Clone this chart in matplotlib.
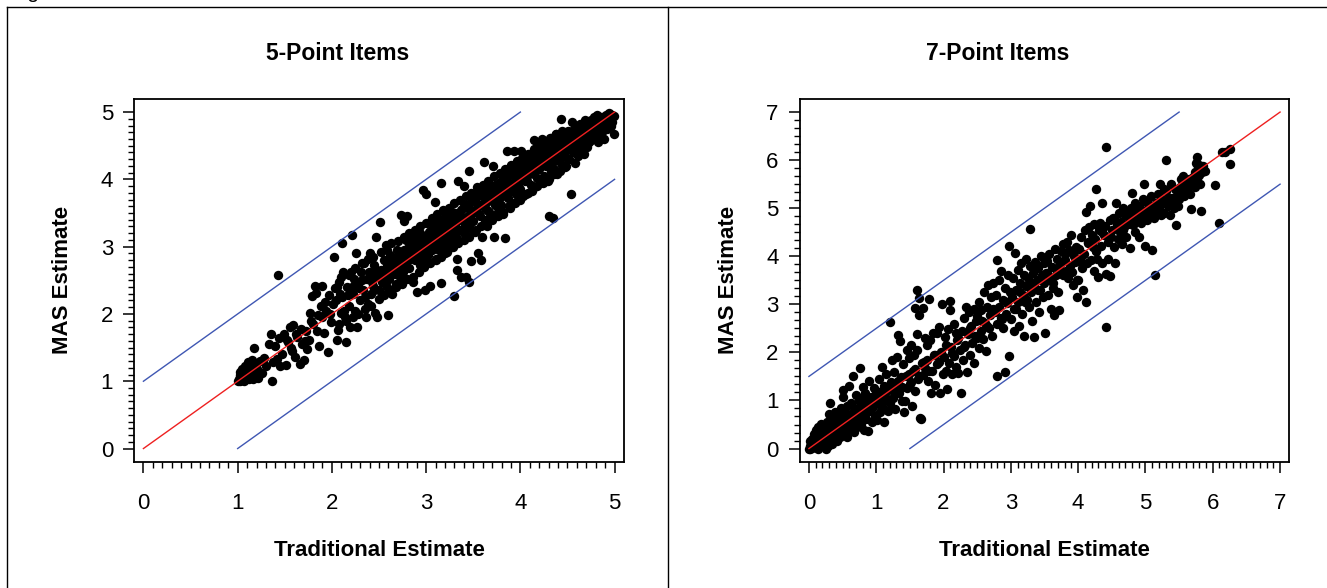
import matplotlib
matplotlib.use('Agg')
import matplotlib.pyplot as plt
from matplotlib.lines import Line2D
import numpy as np

plt.rcParams['font.family'] = ['Liberation Sans', 'DejaVu Sans']

# 5-point items: traditional estimate (x) and MAS estimate (y)
trad_5 = [
    1.00, 1.01, 1.02, 1.02, 1.03, 1.04, 1.05, 1.05, 1.06, 1.07, 1.08, 1.09,
    1.10, 1.11, 1.12, 1.13, 1.14, 1.15, 1.16, 1.18, 1.19, 1.21, 1.22, 1.24,
    1.17, 1.26, 1.28, 1.30, 1.33, 1.35, 1.36, 1.38, 1.40, 1.42, 1.44, 1.47, 1.49, 1.45,
    1.51, 1.53, 1.56, 1.58, 1.59, 1.61, 1.63, 1.66, 1.68, 1.70, 1.72, 1.74,
    1.76, 1.77, 1.79, 1.80, 1.82, 1.83, 1.85, 1.86, 1.88, 1.90, 1.92, 1.94, 1.96, 1.97, 1.99,
    2.01, 2.03, 2.05, 2.06, 2.08, 2.10, 2.11, 2.12, 2.14, 2.15, 2.16, 2.18, 2.19, 2.20, 2.22, 2.23, 2.24,
    2.26, 2.27, 2.28, 2.30, 2.31, 2.33, 2.34, 2.36, 2.37, 2.38, 2.40, 2.41, 2.42, 2.44, 2.45, 2.46, 2.47, 2.48, 2.49,
    2.50, 2.51, 2.52, 2.53, 2.55, 2.56, 2.57, 2.58, 2.60, 2.60, 2.61, 2.62, 2.64, 2.65, 2.66, 2.68, 2.69, 2.70, 2.72, 2.73, 2.74,
    2.75, 2.76, 2.77, 2.78, 2.79, 2.80, 2.81, 2.82, 2.83, 2.85, 2.86, 2.87, 2.88, 2.89, 2.90, 2.91, 2.93, 2.94, 2.95, 2.96, 2.97, 2.98, 2.99,
    3.00, 3.01, 3.02, 3.03, 3.04, 3.05, 3.06, 3.07, 3.08, 3.09, 3.10, 3.11, 3.12, 3.13, 3.14, 3.15, 3.16, 3.16, 3.17, 3.18, 3.19, 3.20, 3.21, 3.22, 3.23, 3.24,
    3.25, 3.26, 3.27, 3.28, 3.29, 3.30, 3.30, 3.31, 3.32, 3.33, 3.33, 3.34, 3.35, 3.36, 3.37, 3.38, 3.39, 3.40, 3.40, 3.41, 3.42, 3.43, 3.44, 3.45, 3.46, 3.47, 3.48, 3.49,
    3.50, 3.51, 3.52, 3.53, 3.54, 3.55, 3.56, 3.57, 3.58, 3.59, 3.60, 3.61, 3.62, 3.63, 3.64, 3.65, 3.66, 3.67, 3.68, 3.69, 3.70, 3.71, 3.72, 3.73, 3.74,
    3.75, 3.76, 3.77, 3.78, 3.79, 3.80, 3.81, 3.82, 3.83, 3.84, 3.85, 3.86, 3.87, 3.88, 3.89, 3.90, 3.91, 3.92, 3.93, 3.94, 3.95, 3.96, 3.97, 3.98, 3.99,
    4.00, 4.01, 4.02, 4.03, 4.04, 4.05, 4.06, 4.07, 4.08, 4.09, 4.10, 4.11, 4.12, 4.13, 4.14, 4.15, 4.16, 4.17, 4.18, 4.19, 4.20, 4.21, 4.22, 4.23, 4.24,
    4.25, 4.26, 4.27, 4.28, 4.29, 4.30, 4.30, 4.31, 4.32, 4.33, 4.34, 4.35, 4.35, 4.36, 4.37, 4.38, 4.39, 4.40, 4.41, 4.42, 4.43, 4.44, 4.45, 4.46, 4.47, 4.48, 4.49,
    4.50, 4.51, 4.52, 4.53, 4.54, 4.55, 4.56, 4.57, 4.58, 4.59, 4.60, 4.61, 4.62, 4.63, 4.64, 4.65, 4.66, 4.67, 4.68, 4.69, 4.70, 4.71, 4.72, 4.73, 4.74,
    4.75, 4.76, 4.77, 4.78, 4.79, 4.80, 4.81, 4.82, 4.83, 4.84, 4.85, 4.86, 4.87, 4.88, 4.89, 4.90, 4.91, 4.92, 4.93, 4.94, 4.95, 4.96, 4.97, 4.99, 4.99,
    1.43, 2.02, 2.11, 2.21,
    1.52, 1.57, 1.62, 1.67, 1.71, 1.78, 1.84, 1.89, 1.93, 1.98, 2.04, 2.09, 2.13, 2.17, 2.21, 2.29, 2.32, 2.35, 2.39, 2.43, 2.45, 2.47,
    2.52, 2.54, 2.56, 2.58, 2.61, 2.63, 2.65, 2.67, 2.69, 2.71, 2.73, 2.75, 2.77, 2.79, 2.81, 2.83, 2.85, 2.87, 2.89, 2.91, 2.93, 2.95, 2.97, 2.99,
    3.01, 3.03, 3.05, 3.07, 3.09, 3.11, 3.13, 3.15, 3.17, 3.19, 3.21, 3.23, 3.25, 3.27, 3.29, 3.31, 3.33, 3.35, 3.37, 3.39, 3.41, 3.43, 3.45, 3.47, 3.49,
    3.51, 3.53, 3.55, 3.57, 3.59, 3.61, 3.63, 3.65, 3.67, 3.69, 3.71, 3.73, 3.75, 3.77, 3.79, 3.81, 3.83, 3.85, 3.87, 3.89, 3.91, 3.93, 3.95, 3.97, 3.99,
    4.01, 4.03, 4.05, 4.07, 4.09, 4.11, 4.13, 4.15, 4.17, 4.19, 4.21, 4.23, 4.25, 4.27, 4.29, 4.31, 4.33, 4.35, 4.37, 4.39, 4.41, 4.43, 4.45, 4.47, 4.49,
    4.51, 4.53, 4.55, 4.57, 4.59, 4.61, 4.63, 4.65, 4.67, 4.69, 4.71, 4.73, 4.75, 4.77, 4.79, 4.81, 4.83, 4.85, 4.87, 4.89, 4.91, 4.93, 4.95, 4.97,
    2.05, 2.10, 2.18, 2.25, 2.32, 2.38, 2.44, 2.52, 2.58, 2.63, 2.70, 2.76, 2.82, 2.88, 2.94, 3.00, 3.06, 3.12, 3.18, 3.24,
    3.30, 3.36, 3.42, 3.48, 3.54, 3.60, 3.66, 3.72, 3.78, 3.84, 3.90, 3.96, 4.02, 4.08, 4.14, 4.20, 4.26, 4.32, 4.38, 4.44,
    2.08, 2.15, 2.22, 2.28, 2.35, 2.42, 2.50, 2.55, 2.62, 2.68, 2.74, 2.80, 2.86, 2.92, 2.98, 3.04, 3.10, 3.16, 3.22, 3.28,
    3.34, 3.40, 3.46, 3.52, 3.58, 3.64, 3.70, 3.76, 3.82, 3.88, 3.94, 4.00, 4.06, 4.12, 4.18, 4.24, 4.30, 4.36, 4.42, 4.48,
]
mas_5 = [
    1.00, 1.04, 1.00, 1.09, 1.14, 1.02, 1.07, 1.18, 1.12, 1.00, 1.22, 1.05,
    1.15, 1.28, 1.03, 1.20, 1.10, 1.32, 1.04, 1.25, 1.13, 1.18, 1.05, 1.30,
    1.49, 1.12, 1.35, 1.22, 1.55, 1.70, 1.01, 1.28, 1.52, 1.33, 1.65, 1.40, 1.70, 1.22,
    1.24, 1.58, 1.81, 1.45, 1.84, 1.36, 1.66, 1.25, 1.55, 1.32, 1.75, 1.48,
    1.62, 2.01, 2.26, 1.85, 2.41, 2.31, 1.98, 1.52, 2.12, 2.41, 1.72, 2.05, 1.44, 2.28, 1.88,
    2.15, 2.38, 1.62, 1.76, 2.48, 2.02, 2.25, 2.63, 1.95, 1.59, 2.40, 2.12, 1.81, 2.63, 2.30, 2.52, 2.05,
    2.90, 1.81, 2.45, 2.20, 2.62, 2.35, 2.75, 1.96, 2.52, 2.15, 2.90, 2.30, 2.60, 2.42, 2.72, 2.01, 3.15, 1.95, 2.55,
    2.35, 3.36, 2.65, 2.48, 2.80, 2.58, 3.02, 2.40, 1.98, 2.70, 2.52, 2.88, 2.30, 2.62, 2.78, 2.45, 2.95, 2.70, 2.55, 3.47, 2.85,
    2.62, 3.38, 2.95, 2.75, 3.10, 3.45, 2.85, 2.68, 3.02, 2.92, 2.47, 3.15, 2.80, 2.98, 2.33, 3.08, 2.72, 3.20, 2.90, 3.02, 3.84, 2.82, 2.36,
    3.78, 3.05, 2.88, 3.22, 2.41, 3.12, 2.95, 3.35, 3.02, 3.66, 3.15, 2.82, 3.28, 3.08, 2.95, 3.40, 2.46, 3.94, 3.18, 3.02, 3.30, 2.90, 3.45, 3.12, 3.22, 2.98,
    3.35, 3.10, 3.52, 3.22, 3.05, 2.27, 3.42, 3.30, 3.15, 2.81, 2.66, 3.98, 3.48, 3.25, 2.55, 3.40, 3.58, 3.90, 3.20, 3.32, 2.55, 3.62, 3.45, 2.48, 4.13, 3.28, 2.78, 3.52,
    3.38, 3.70, 3.55, 3.25, 3.82, 2.91, 3.48, 3.62, 2.80, 3.15, 3.75, 4.26, 3.40, 3.58, 3.88, 3.30, 3.68, 3.52, 3.92, 3.45, 3.78, 4.20, 3.15, 3.62, 3.85,
    3.70, 3.52, 3.95, 3.80, 3.62, 4.05, 3.75, 3.48, 3.88, 3.13, 4.00, 4.42, 3.72, 3.92, 3.58, 4.10, 3.82, 3.65, 4.42, 3.98, 3.78, 4.15, 3.88, 3.70, 4.05,
    3.85, 4.42, 4.12, 3.75, 4.25, 3.98, 4.32, 4.05, 3.80, 4.18, 4.38, 3.92, 4.10, 4.28, 4.59, 3.88, 4.20, 4.35, 4.02, 4.45, 4.15, 3.95, 4.30, 4.60, 4.22,
    4.05, 4.38, 4.20, 4.52, 3.98, 3.45, 4.30, 4.62, 4.12, 4.42, 4.25, 3.42, 4.55, 4.15, 4.35, 4.68, 4.08, 4.45, 4.28, 4.58, 4.90, 4.22, 4.40, 4.65, 4.18, 4.50, 4.32,
    4.45, 4.72, 4.30, 4.58, 3.78, 4.85, 4.40, 4.62, 4.25, 4.78, 4.50, 4.35, 4.68, 4.82, 4.55, 4.42, 4.75, 4.60, 4.38, 4.88, 4.65, 4.48, 4.80, 4.55, 4.70,
    4.58, 4.85, 4.70, 4.92, 4.62, 4.78, 4.95, 4.55, 4.88, 4.72, 4.82, 4.65, 4.92, 4.78, 4.60, 4.88, 4.95, 4.75, 4.85, 4.98, 4.90, 4.80, 4.96, 4.94, 4.68,
    2.58, 2.85, 3.06, 3.18,
    1.62, 1.50, 1.70, 1.78, 1.60, 1.90, 1.75, 1.95, 2.18, 2.00, 2.20, 2.30, 2.05, 2.28, 2.40, 2.38, 2.50, 2.25, 2.62, 2.48, 2.35, 2.65,
    2.62, 2.47, 2.58, 2.72, 2.55, 2.68, 2.80, 2.60, 2.74, 2.88, 2.66, 2.80, 2.90, 2.70, 2.98, 2.82, 3.05, 2.90, 3.02, 2.85, 3.10, 2.98, 3.08, 2.92,
    3.15, 3.00, 3.25, 3.10, 2.98, 3.20, 3.32, 3.12, 3.28, 3.08, 3.35, 3.22, 3.45, 3.30, 3.18, 3.50, 3.38, 3.25, 3.55, 3.42, 3.62, 3.35, 3.58, 3.48, 3.68,
    3.52, 3.72, 3.60, 3.45, 3.78, 3.65, 3.82, 3.55, 3.75, 3.88, 3.68, 3.92, 3.80, 3.65, 3.95, 3.85, 4.00, 3.78, 3.95, 4.08, 3.88, 4.05, 4.15, 3.92, 4.12,
    4.02, 4.22, 4.10, 3.98, 4.25, 4.15, 4.32, 4.08, 4.25, 4.38, 4.20, 4.35, 4.45, 4.28, 4.42, 4.22, 4.50, 4.38, 4.55, 4.30, 4.48, 4.60, 4.35, 4.55, 4.68,
    4.45, 4.62, 4.72, 4.50, 4.68, 4.55, 4.75, 4.62, 4.82, 4.58, 4.78, 4.68, 4.88, 4.72, 4.85, 4.65, 4.80, 4.92, 4.70, 4.84, 4.90, 4.78, 4.92, 4.85,
    2.40, 2.55, 2.58, 2.68, 2.75, 2.82, 2.85, 2.92, 2.95, 3.05, 3.08, 3.15, 3.20, 3.25, 3.30, 3.35, 3.42, 3.48, 3.55, 3.58,
    3.65, 3.70, 3.75, 3.80, 3.88, 3.92, 3.98, 4.05, 4.10, 4.15, 4.22, 4.28, 4.32, 4.38, 4.45, 4.50, 4.55, 4.62, 4.68, 4.72,
    1.85, 1.90, 1.95, 2.00, 2.08, 2.12, 2.22, 2.28, 2.32, 2.40, 2.45, 2.52, 2.55, 2.62, 2.70, 2.75, 2.80, 2.85, 2.92, 3.00,
    3.05, 3.10, 3.15, 3.22, 3.30, 3.35, 3.40, 3.45, 3.52, 3.60, 3.65, 3.70, 3.78, 3.82, 3.90, 3.95, 4.00, 4.08, 4.12, 4.20,
]

# 7-point items
trad_7 = [
    0.00, 0.01, 0.02, 0.02, 0.03, 0.04, 0.05, 0.06, 0.07, 0.08, 0.09, 0.10, 0.11, 0.12, 0.13, 0.14, 0.15, 0.17, 0.18, 0.20, 0.21, 0.22, 0.24,
    0.25, 0.26, 0.27, 0.28, 0.29, 0.30, 0.31, 0.32, 0.33, 0.34, 0.35, 0.36, 0.37, 0.38, 0.39, 0.40, 0.41, 0.42, 0.43, 0.44, 0.45, 0.46, 0.47, 0.48, 0.49,
    0.50, 0.51, 0.52, 0.53, 0.55, 0.56, 0.57, 0.58, 0.60, 0.61, 0.62, 0.63, 0.65, 0.66, 0.67, 0.68, 0.70, 0.71, 0.72, 0.74,
    0.75, 0.76, 0.77, 0.78, 0.80, 0.81, 0.82, 0.84, 0.85, 0.86, 0.88, 0.89, 0.90, 0.92, 0.93, 0.95, 0.96, 0.98, 0.99,
    1.00, 1.01, 1.03, 1.04, 1.05, 1.07, 1.08, 1.10, 1.11, 1.12, 1.14, 1.15, 1.17, 1.18, 1.20, 1.21, 1.22, 1.24,
    1.25, 1.27, 1.28, 1.30, 1.31, 1.33, 1.34, 1.35, 1.37, 1.38, 1.40, 1.42, 1.43, 1.45, 1.46, 1.48, 1.49,
    1.50, 1.52, 1.53, 1.55, 1.56, 1.58, 1.58, 1.60, 1.60, 1.61, 1.62, 1.63, 1.63, 1.65, 1.66, 1.68, 1.69, 1.70, 1.72, 1.73, 1.75,
    1.76, 1.77, 1.79, 1.80, 1.82, 1.83, 1.85, 1.86, 1.88, 1.90, 1.91, 1.93, 1.95, 1.96, 1.97, 1.99,
    2.00, 2.02, 2.03, 2.05, 2.06, 2.08, 2.10, 2.10, 2.11, 2.13, 2.15, 2.16, 2.18, 2.19, 2.20, 2.22, 2.24,
    2.26, 2.27, 2.29, 2.30, 2.32, 2.34, 2.35, 2.37, 2.38, 2.40, 2.41, 2.43, 2.45, 2.46, 2.48, 2.49,
    2.50, 2.52, 2.53, 2.55, 2.56, 2.58, 2.60, 2.61, 2.63, 2.64, 2.66, 2.67, 2.69, 2.70, 2.72, 2.73, 2.74,
    2.76, 2.78, 2.79, 2.79, 2.80, 2.82, 2.83, 2.85, 2.86, 2.88, 2.89, 2.91, 2.92, 2.93, 2.95, 2.96, 2.97, 2.98, 2.99,
    3.00, 3.02, 3.03, 3.05, 3.06, 3.07, 3.08, 3.10, 3.11, 3.12, 3.14, 3.15, 3.16, 3.18, 3.19, 3.20, 3.22, 3.23, 3.24,
    3.25, 3.27, 3.28, 3.29, 3.30, 3.31, 3.33, 3.34, 3.35, 3.36, 3.38, 3.39, 3.40, 3.42, 3.43, 3.45, 3.46, 3.48, 3.49,
    3.50, 3.51, 3.53, 3.54, 3.55, 3.57, 3.58, 3.60, 3.61, 3.63, 3.64, 3.65, 3.67, 3.68, 3.70, 3.71, 3.72, 3.74,
    3.75, 3.77, 3.78, 3.80, 3.81, 3.83, 3.84, 3.85, 3.87, 3.88, 3.90, 3.91, 3.92, 3.94, 3.95, 3.97, 3.98, 3.99,
    4.00, 4.01, 4.03, 4.04, 4.05, 4.07, 4.08, 4.10, 4.11, 4.12, 4.13, 4.15, 4.16, 4.18, 4.19, 4.20, 4.22, 4.23, 4.24,
    4.25, 4.27, 4.27, 4.28, 4.30, 4.31, 4.33, 4.34, 4.36, 4.36, 4.38, 4.40, 4.41, 4.42, 4.42, 4.44, 4.45, 4.47, 4.48, 4.49,
    4.50, 4.52, 4.53, 4.55, 4.56, 4.57, 4.59, 4.60, 4.62, 4.63, 4.65, 4.66, 4.68, 4.70, 4.71, 4.73, 4.74,
    4.75, 4.77, 4.78, 4.80, 4.81, 4.82, 4.84, 4.85, 4.87, 4.88, 4.90, 4.91, 4.93, 4.94, 4.96, 4.97, 4.98, 4.99,
    5.00, 5.02, 5.03, 5.05, 5.06, 5.08, 5.10, 5.10, 5.12, 5.14, 5.15, 5.17, 5.18, 5.20, 5.21, 5.23, 5.24,
    5.26, 5.28, 5.30, 5.31, 5.33, 5.35, 5.37, 5.38, 5.40, 5.42, 5.44, 5.45, 5.47, 5.49,
    5.50, 5.52, 5.54, 5.56, 5.58, 5.60, 5.62, 5.64, 5.66, 5.67, 5.69, 5.71, 5.73, 5.74,
    5.75, 5.76, 5.77, 5.78, 5.79, 5.80, 5.81, 5.82, 5.84, 5.86, 5.88,
    6.03, 6.09, 6.13, 6.18, 6.26, 6.26,
    0.05, 0.09, 0.13, 0.16, 0.19, 0.23, 0.27, 0.31, 0.35, 0.39, 0.43, 0.47, 0.52, 0.57, 0.62, 0.67, 0.72, 0.78, 0.83, 0.88,
    0.93, 0.98, 1.04, 1.09, 1.15, 1.21, 1.27, 1.33, 1.39, 1.44, 1.51, 1.57, 1.64, 1.71, 1.78, 1.87, 1.94, 2.04, 2.12, 2.21,
    2.31, 2.39, 2.47, 2.57, 2.65, 2.77, 2.87, 2.94, 3.04, 3.13, 3.21, 3.32, 3.41, 3.52, 3.62, 3.73, 3.82, 3.93, 4.02, 4.14,
    4.26, 4.35, 4.46, 4.58, 4.67, 4.79, 4.89, 5.01, 5.13, 5.27, 5.39, 5.53, 5.63,
]
mas_7 = [
    0.00, 0.05, 0.00, 0.15, 0.08, 0.02, 0.20, 0.10, 0.03, 0.30, 0.15, 0.06, 0.38, 0.22, 0.00, 0.45, 0.28, 0.12, 0.52, 0.35, 0.20, 0.05, 0.42,
    0.30, 0.00, 0.55, 0.05, 0.40, 0.72, 0.18, 0.95, 0.48, 0.10, 0.65, 0.28, 0.35, 0.75, 0.22, 0.58, 0.42, 0.15, 0.70, 0.32, 0.52, 0.25, 0.85, 0.40, 0.62,
    1.22, 1.08, 0.30, 0.75, 0.48, 0.88, 0.25, 0.62, 1.30, 0.40, 0.95, 0.70, 0.55, 1.50, 0.35, 0.82, 1.12, 0.60, 0.45, 0.98,
    0.70, 1.67, 1.05, 0.48, 0.85, 1.28, 0.39, 1.15, 0.62, 0.95, 0.36, 1.40, 0.78, 1.08, 0.55, 0.88, 1.25, 0.68, 1.02,
    1.20, 0.60, 0.95, 1.45, 0.75, 1.10, 1.70, 0.85, 1.30, 0.55, 1.02, 1.55, 0.78, 1.22, 0.95, 2.63, 1.38, 1.85,
    1.05, 1.60, 0.82, 1.32, 1.90, 2.37, 1.15, 2.23, 1.48, 0.98, 1.75, 0.77, 0.99, 1.25, 2.05, 1.55, 1.88,
    1.35, 2.15, 0.88, 1.62, 1.95, 2.93, 1.20, 3.30, 2.39, 2.05, 1.45, 3.14, 2.77, 0.64, 0.61, 1.78, 2.92, 1.52, 2.30, 1.68, 2.16,
    1.85, 1.40, 3.11, 2.25, 1.15, 1.62, 2.40, 1.95, 1.32, 2.40, 1.75, 2.52, 1.16, 2.00, 3.00, 1.55,
    1.90, 2.33, 1.62, 1.24, 2.48, 1.78, 3.06, 2.88, 2.12, 1.55, 2.60, 1.92, 2.40, 1.70, 2.25, 1.58, 2.05,
    1.16, 2.45, 1.85, 2.72, 2.15, 2.95, 1.60, 2.38, 2.85, 1.95, 2.55, 2.20, 2.90, 1.78, 2.65, 2.30,
    2.75, 2.10, 3.05, 2.45, 2.88, 2.28, 3.25, 2.62, 2.02, 2.95, 3.40, 2.50, 2.78, 3.15, 2.35, 2.90, 3.45,
    2.85, 3.20, 1.51, 3.92, 2.60, 3.50, 2.95, 2.72, 3.70, 3.10, 2.50, 1.60, 3.35, 2.80, 3.02, 3.60, 1.93, 4.21, 3.25,
    2.70, 3.15, 3.55, 2.45, 4.07, 3.30, 2.90, 3.72, 3.05, 2.55, 3.45, 3.85, 2.80, 3.20, 3.62, 2.35, 3.38, 3.95, 3.10,
    3.55, 2.95, 3.80, 4.57, 3.25, 2.65, 3.65, 3.40, 2.33, 3.88, 3.05, 3.50, 3.75, 2.85, 3.30, 4.00, 3.60, 3.15, 3.85,
    3.45, 2.40, 3.90, 3.65, 3.20, 4.05, 3.55, 2.90, 3.78, 3.35, 2.78, 4.15, 3.60, 3.95, 3.25, 3.75, 2.88, 4.10,
    3.85, 4.25, 3.60, 4.05, 3.92, 3.70, 4.30, 3.55, 4.12, 3.80, 4.45, 3.68, 3.40, 4.00, 3.88, 4.20, 3.15, 3.50,
    3.50, 4.15, 3.95, 4.40, 3.75, 3.30, 4.05, 4.55, 4.93, 3.05, 3.85, 4.28, 4.60, 5.05, 3.92, 4.45, 4.20, 3.70, 4.68,
    4.35, 5.40, 4.10, 3.95, 3.57, 4.55, 4.70, 4.22, 3.87, 5.10, 4.45, 4.62, 2.53, 6.27, 3.63, 4.30, 3.95, 4.75, 3.58, 4.40,
    4.55, 4.80, 4.20, 3.87, 5.10, 4.65, 4.35, 4.90, 4.50, 4.72, 4.25, 5.00, 4.60, 4.85, 4.40, 4.95, 4.68,
    4.80, 4.18, 5.00, 5.31, 4.65, 4.90, 4.50, 5.10, 4.75, 4.95, 4.40, 5.05, 4.85, 4.70, 5.20, 4.92, 5.50, 4.22,
    4.95, 5.15, 4.75, 5.05, 4.88, 5.25, 4.14, 5.00, 4.80, 3.61, 5.10, 4.92, 5.30, 5.02, 5.50, 4.85, 5.20,
    5.10, 4.90, 5.35, 6.00, 5.05, 5.22, 4.85, 5.50, 5.15, 5.00, 5.40, 4.66, 5.28, 5.05,
    5.20, 5.45, 5.35, 5.66, 5.25, 5.55, 5.40, 5.60, 5.30, 4.99, 5.50, 5.65, 5.45, 5.75,
    5.95, 6.07, 5.60, 5.85, 5.70, 5.90, 5.50, 4.94, 5.75, 5.88, 5.78,
    5.48, 4.70, 6.17, 6.17, 6.24, 5.91,
    0.12, 0.25, 0.08, 0.30, 0.18, 0.35, 0.15, 0.45, 0.28, 0.52, 0.38, 0.60, 0.45, 0.72, 0.55, 0.78, 0.62, 0.90, 0.72, 1.00,
    0.85, 1.10, 0.92, 1.20, 1.05, 1.32, 1.18, 1.40, 1.28, 1.50, 1.38, 1.65, 1.50, 1.80, 1.62, 1.95, 1.80, 2.15, 1.98, 2.30,
    2.12, 2.50, 2.35, 2.65, 2.55, 2.88, 2.70, 3.05, 2.90, 3.25, 3.05, 3.42, 3.30, 3.65, 3.45, 3.85, 3.70, 4.05, 3.90, 4.30,
    4.10, 4.50, 4.38, 4.72, 4.55, 4.92, 4.75, 5.12, 4.98, 5.40, 5.22, 5.60, 5.48,
]

titles = ["5-Point Items", "7-Point Items"]
scale_max = [5, 7]
band_width = [1.0, 1.5]

W, H = 1327, 588


def draw_panel(ax, trad, mas, top, band, title, minor_x, minor_y, panel_cx):
    ax.scatter(trad, mas, s=46, c='black', linewidths=0, zorder=2)
    ax.plot([0, top], [0, top], color='#ee2020', lw=1.0, zorder=3)
    ax.plot([0, top - band], [band, top], color='#3f57b3', lw=1.0, zorder=3)
    ax.plot([band, top], [0, top - band], color='#3f57b3', lw=1.0, zorder=3)

    ax.set_xlim(-0.02 * top, 1.02 * top)
    ax.set_ylim(-0.04 * top, 1.04 * top)
    ax.set_xticks(range(top + 1))
    ax.set_yticks(range(top + 1))
    ax.set_xticks(np.arange(0, top + 0.001, minor_x), minor=True)
    ax.set_yticks(np.arange(0, top + 0.001, minor_y), minor=True)
    ax.tick_params(which='major', direction='out', length=8, width=1.1,
                   labelsize=16, color='black')
    ax.tick_params(axis='x', which='major', pad=14)
    ax.tick_params(axis='y', which='major', pad=7)
    ax.tick_params(which='minor', direction='out', length=4.5, width=1.0)
    for sp in ax.spines.values():
        sp.set_linewidth(1.3)

    bb = ax.get_position()
    cx = (bb.x0 + bb.x1) / 2
    cy = (bb.y0 + bb.y1) / 2
    fig.text(panel_cx, 1 - 54 / H, title, ha='center', va='center',
             fontsize=16.5, fontweight='bold')
    fig.text(cx, 1 - 550 / H, "Traditional Estimate", ha='center', va='center',
             fontsize=16, fontweight='bold')
    fig.text(bb.x0 - 71 / W, cy, "MAS Estimate", ha='center', va='center',
             rotation=90, fontsize=16, fontweight='bold')


fig = plt.figure(figsize=(W / 100, H / 100), dpi=100)

ax1 = fig.add_axes([134 / W, 1 - 462 / H, 490 / W, 363.4 / H])
ax2 = fig.add_axes([799.5 / W, 1 - 462 / H, 490 / W, 363.4 / H])

draw_panel(ax1, trad_5, mas_5, scale_max[0], band_width[0], titles[0], 0.1, 0.1, 337.5 / W)
draw_panel(ax2, trad_7, mas_7, scale_max[1], band_width[1], titles[1], 0.1, 1 / 6, 997.5 / W)

# frame around the figure panels
fig.add_artist(Line2D([7 / W, 1], [1 - 7 / H, 1 - 7 / H], color='black', lw=1.0))
fig.add_artist(Line2D([7 / W, 7 / W], [0, 1 - 7 / H], color='black', lw=1.0))
fig.add_artist(Line2D([668 / W, 668 / W], [0, 1 - 7 / H], color='black', lw=1.0))
fig.text(10 / W, 1 + 2 / H, "Figure", ha='left', va='baseline', fontsize=15)

fig.savefig('out.png', dpi=100)
